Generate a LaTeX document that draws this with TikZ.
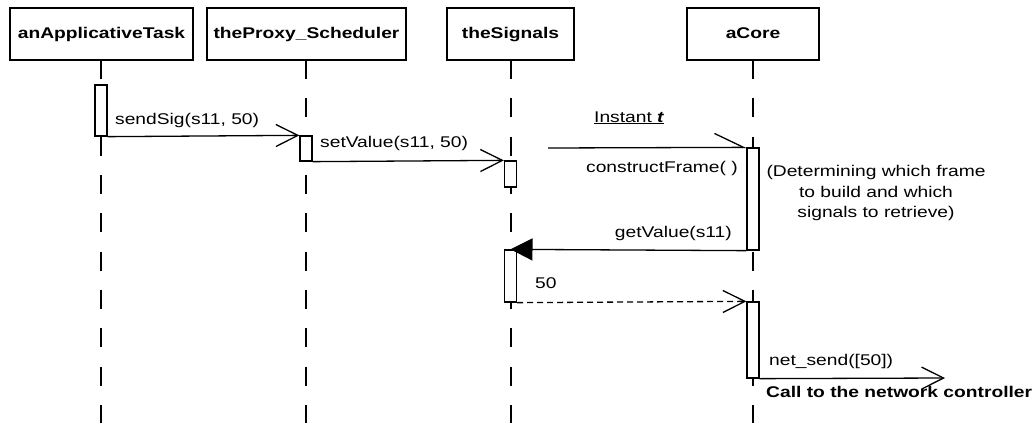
\documentclass[tikz,border=0pt]{standalone}
\usepackage{fontspec}
\setmainfont{Liberation Sans}[FakeStretch=1.24]
\usetikzlibrary{arrows.meta}
\begin{document}
\begin{tikzpicture}[x=1pt,y=-1pt,
  every node/.style={inner sep=0pt, font=\fontsize{15.5}{20.5}\selectfont},
  objbox/.style={draw, line width=1.3pt, minimum width=#1, minimum height=52pt,
    font=\fontsize{15.5}{20.5}\selectfont\bfseries, text height=11.5pt, text depth=3.5pt},
  objbox/.default=130pt,
  actbox/.style={draw, fill=white, line width=1.3pt, minimum width=12pt, minimum height=#1},
  actbox/.default=20pt,
  life/.style={line width=2pt, dash pattern=on 19pt off 19.33pt},
  msg/.style={line width=1.3pt, -{Straight Barb[length=22pt,width=22pt]}},
  lbl/.style={anchor=base west},
  lblr/.style={anchor=base east}]
\useasboundingbox (0,0) rectangle (1035,423);

% objects
\node[objbox=183pt] (task)  at (101.5,34) {anApplicativeTask};
\node[objbox=199pt] (proxy) at (306.5,34) {theProxy\_Scheduler};
\node[objbox=127pt] (sig)   at (510.5,34) {theSignals};
\node[objbox=132pt] (core)  at (753,34)   {aCore};

% lifelines
\coordinate (taskend)  at (101,423);
\coordinate (proxyend) at (306,423);
\coordinate (sigend)   at (510.5,423);
\coordinate (coreend)  at (753,423);
\draw[life] (101,60) -- (taskend);
\draw[life] (306,60) -- (proxyend);
\draw[life] (510.5,60) -- (sigend);
\draw[life] (753,60) -- (coreend);

% activations
\node[actbox=51pt] (a1) at (101,110.5) {};
\node[actbox=25pt] (a2) at (306,148.5) {};
\node[actbox=26pt] (a3) at (510.5,174) {};
\node[actbox=102pt] (a4) at (753,199) {};
\node[actbox=52pt] (a5) at (510.5,276) {};
\node[actbox=76pt] (a6) at (753,340) {};

% messages
\draw[msg] (a1.south east) -- (a2.north west);
\draw[msg] (a2.south east) -- (a3.north west);
\coordinate (inst) at (548,148);
\draw[line width=1.3pt, -{Straight Barb[harpoon,length=29pt,width=28pt]}] (inst) -- (a4.north west);
\draw[line width=1.3pt, -{Triangle[length=22pt,width=22pt]}] (a4.south west) -- (a5.north);
\draw[msg, dash pattern=on 6pt off 4pt] (a5.south east) -- (a6.north west);
\coordinate (ns) at (945,378);
\draw[msg] (a6.south east) -- (ns);

% labels
\node[lbl] (l1) at (115,124) {sendSig(s11, 50)};
\node[lbl] (l2) at (320,147) {setValue(s11, 50)};
\node[lbl] (l3) at (594,122) {\underline{Instant \textbf{\textit{t}}}};
\node[lblr] (l4) at (738,172) {constructFrame( )};
\node[lblr] (l5) at (732,237) {getValue(s11)};
\node[anchor=north, align=center] (note) at (876,165.5) {(Determining which frame\\to build and which\\signals to retrieve)};
\node[lbl] (l6) at (535,288) {50};
\node[lbl] (l7) at (769,365) {net\_send([50])};
\node[lbl, font=\fontsize{15.5}{20.5}\selectfont\bfseries] (l8) at (766,397) {Call to the network controller};
\end{tikzpicture}
\end{document}
